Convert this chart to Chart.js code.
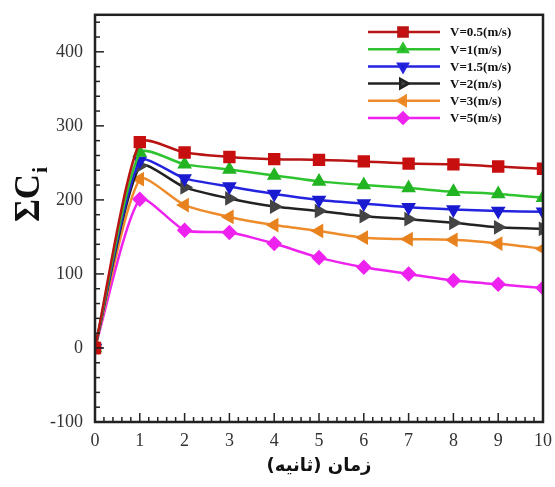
<!DOCTYPE html>
<html>
<head>
<meta charset="utf-8">
<script src="https://cdn.jsdelivr.net/npm/chart.js@4.4.1/dist/chart.umd.min.js"></script>
<style>
  html, body { margin: 0; padding: 0; background: #fff; }
  #wrap { width: 555px; height: 487px; }
</style>
</head>
<body>
<div id="wrap"><canvas id="chart" width="555" height="487"></canvas></div>
<script>
const times = [0, 1, 2, 3, 4, 5, 6, 7, 8, 9, 10];
const v05 = [0, 278, 264, 258, 255, 254, 252, 249, 248, 245, 242];
const v1  = [0, 264, 248, 241, 233, 225, 220, 216, 211, 208, 203];
const v15 = [0, 253, 229, 218, 208, 200, 195, 190, 187, 185, 184];
const v2  = [0, 246, 217, 202, 191, 185, 178, 174, 169, 163, 161];
const v3  = [0, 228, 193, 177, 166, 158, 149, 147, 146, 141, 134];
const v5  = [0, 201, 159, 156, 141, 122, 109, 100, 91, 86, 81];
const seriesLabels = ['V=0.5(m/s)', 'V=1(m/s)', 'V=1.5(m/s)', 'V=2(m/s)', 'V=3(m/s)', 'V=5(m/s)'];
const yTicks = [-100, 0, 100, 200, 300, 400];
const xTitle = '\u200Fزمان (ثانیه)\u200F';

const styles = [
  { color: '#b81414', point: '#c80f0f', shape: 'rect', rot: 0 },
  { color: '#2fc42f', point: '#22b422', shape: 'triangle', rot: 0 },
  { color: '#2424e0', point: '#1a1ad0', shape: 'triangle', rot: 180 },
  { color: '#222222', point: '#444444', shape: 'triangle', rot: 90 },
  { color: '#ee8c2c', point: '#e8821e', shape: 'triangle', rot: -90 },
  { color: '#ee22ee', point: '#ee22ee', shape: 'rectRot', rot: 0 }
];

const allSeries = [v05, v1, v15, v2, v3, v5];
const datasets = allSeries.map((vals, i) => ({
  label: seriesLabels[i],
  data: times.map((t, k) => ({ x: t, y: vals[k] })),
  borderColor: styles[i].color,
  backgroundColor: styles[i].point,
  pointBackgroundColor: styles[i].point,
  pointBorderColor: styles[i].point,
  pointStyle: styles[i].shape,
  pointRotation: styles[i].rot,
  pointRadius: styles[i].shape === 'rect' ? 7 : 6,
  borderWidth: 2.5,
  tension: 0.22
}));

// frame, inward ticks, y title, legend
const decor = {
  id: 'decor',
  afterDatasetsDraw(chart) {
    const ctx = chart.ctx;
    const a = chart.chartArea;
    const xs = chart.scales.x, ys = chart.scales.y;
    ctx.save();
    ctx.strokeStyle = '#222';
    ctx.lineWidth = 1.5;
    // y ticks
    for (let v = -100; v <= 440; v += 20) {
      const y = ys.getPixelForValue(v);
      const len = v % 100 === 0 ? 9 : 5;
      ctx.beginPath(); ctx.moveTo(a.left, y); ctx.lineTo(a.left + len, y); ctx.stroke();
    }
    // x ticks
    for (let i = 0; i <= 50; i++) {
      const t = i * 0.2;
      const x = xs.getPixelForValue(t);
      const len = i % 5 === 0 ? 9 : 5;
      ctx.beginPath(); ctx.moveTo(x, a.bottom); ctx.lineTo(x, a.bottom - len); ctx.stroke();
    }
    // frame
    ctx.lineWidth = 2.5;
    ctx.strokeRect(a.left, a.top, a.right - a.left, a.bottom - a.top);

    // y title ΣC_i
    ctx.translate(30, 192);
    ctx.rotate(-Math.PI / 2);
    ctx.fillStyle = '#111';
    ctx.textBaseline = 'middle';
    ctx.textAlign = 'left';
    ctx.font = 'bold 35px "Liberation Serif"';
    const w = ctx.measureText('ΣC').width;
    const wi = 12;
    ctx.fillText('ΣC', -(w + wi) / 2, 0);
    ctx.font = 'bold 22px "Liberation Serif"';
    ctx.fillText('i', -(w + wi) / 2 + w + 1, 11);
    ctx.restore();

    // legend
    ctx.save();
    chart.data.datasets.forEach((ds, i) => {
      const y = 32 + i * 17.2;
      ctx.strokeStyle = ds.borderColor;
      ctx.lineWidth = 2.5;
      ctx.beginPath(); ctx.moveTo(368, y); ctx.lineTo(440, y); ctx.stroke();
      ctx.fillStyle = ds.pointBackgroundColor;
      Chart.helpers.drawPoint(ctx, {
        pointStyle: ds.pointStyle,
        rotation: ds.pointRotation,
        radius: ds.pointStyle === 'rect' ? 6.5 : 5.5,
        borderWidth: 1
      }, 403, y);
      ctx.fillStyle = '#111';
      ctx.font = 'bold 13px "Liberation Serif"';
      ctx.textBaseline = 'middle';
      ctx.textAlign = 'left';
      ctx.fillText(ds.label, 450, y + 1);
    });
    ctx.restore();
  }
};

new Chart(document.getElementById('chart'), {
  type: 'line',
  data: { datasets },
  options: {
    responsive: false,
    animation: false,
    layout: { padding: { top: 12, right: 12, left: 0, bottom: 0 } },
    plugins: { legend: { display: false }, tooltip: { enabled: false } },
    scales: {
      x: {
        type: 'linear',
        min: 0, max: 10,
        grid: { display: false },
        border: { display: false },
        ticks: {
          stepSize: 1,
          padding: 0,
          color: '#333',
          font: { family: 'Liberation Serif', size: 18 }
        },
        title: {
          display: true,
          text: xTitle,
          color: '#111',
          padding: { top: 4, bottom: 10 },
          font: { family: 'DejaVu Sans', size: 18, weight: 'bold' }
        },
        afterFit: s => { s.height = 65; }
      },
      y: {
        min: -100, max: 450,
        grid: { display: false },
        border: { display: false },
        afterBuildTicks: s => { s.ticks = yTicks.map(v => ({ value: v })); },
        ticks: {
          padding: 4,
          color: '#333',
          font: { family: 'Liberation Serif', size: 18 }
        },
        afterFit: s => { s.width = 95; }
      }
    }
  },
  plugins: [decor]
});
</script>
</body>
</html>
